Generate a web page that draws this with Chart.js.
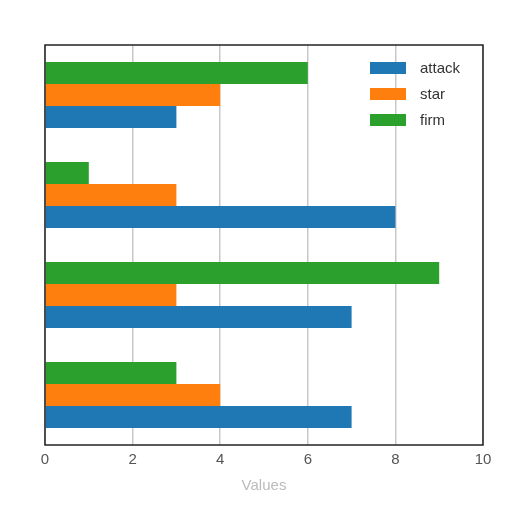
<!DOCTYPE html>
<html>
<head>
<meta charset="utf-8">
<script src="https://cdn.jsdelivr.net/npm/chart.js@4"></script>
<style>
  html, body { margin: 0; padding: 0; background: #fff; }
  #wrap { width: 512px; height: 512px; }
</style>
</head>
<body>
<div id="wrap"><canvas id="chart" width="512" height="512"></canvas></div>
<script>
// --- Data (groups listed top to bottom) ---
const groups = ['A', 'B', 'C', 'D'];
const attack = [3, 8, 7, 7];
const star = [4, 3, 3, 4];
const firm = [6, 1, 9, 3];
const xTicks = [0, 2, 4, 6, 8, 10];

const BLUE = '#1f77b4', ORANGE = '#ff7f0e', GREEN = '#2ca02c';

// frame around the plot area, like matplotlib spines
const frame = {
  id: 'frame',
  afterDatasetsDraw(chart) {
    const { ctx, chartArea: a } = chart;
    ctx.save();
    ctx.strokeStyle = '#222';
    ctx.lineWidth = 1.5;
    ctx.strokeRect(a.left, a.top, a.right - a.left, a.bottom - a.top);
    ctx.restore();
  }
};

// legend inside the plot, top right, order attack / star / firm
const innerLegend = {
  id: 'innerLegend',
  afterDraw(chart) {
    const { ctx, chartArea: a } = chart;
    const items = chart.data.datasets.slice().reverse();
    ctx.save();
    ctx.font = '15px "Liberation Sans", Arial, sans-serif';
    ctx.textBaseline = 'middle';
    items.forEach((ds, i) => {
      const y = a.top + 23 + i * 26;
      ctx.fillStyle = ds.backgroundColor;
      ctx.fillRect(a.right - 113, y - 6, 36, 12);
      ctx.fillStyle = '#333';
      ctx.fillText(ds.label, a.right - 63, y + 1);
    });
    ctx.restore();
  }
};

new Chart(document.getElementById('chart'), {
  type: 'bar',
  data: {
    labels: groups,
    datasets: [
      { label: 'firm', data: firm, backgroundColor: GREEN },
      { label: 'star', data: star, backgroundColor: ORANGE },
      { label: 'attack', data: attack, backgroundColor: BLUE }
    ]
  },
  options: {
    responsive: false,
    animation: false,
    indexAxis: 'y',
    layout: { padding: { left: 45, top: 45, right: 29, bottom: 17 } },
    datasets: { bar: { categoryPercentage: 0.66, barPercentage: 1.0 } },
    plugins: { legend: { display: false }, tooltip: { enabled: false } },
    scales: {
      x: {
        min: 0, max: 10,
        afterBuildTicks: s => { s.ticks = xTicks.map(v => ({ value: v })); },
        afterFit: s => { s.height = 50; },
        grid: { color: '#c8c8c8', lineWidth: 1.5, drawTicks: false },
        border: { display: false },
        ticks: { color: '#555', padding: 6, font: { size: 15, family: '"Liberation Sans", Arial, sans-serif' } },
        title: { display: true, text: 'Values', color: '#bbb', padding: { top: 2, bottom: 0 }, font: { size: 15, family: '"Liberation Sans", Arial, sans-serif' } }
      },
      y: {
        afterFit: s => { s.width = 0; },
        grid: { display: false },
        border: { display: false },
        ticks: { display: false }
      }
    }
  },
  plugins: [frame, innerLegend]
});
</script>
</body>
</html>
